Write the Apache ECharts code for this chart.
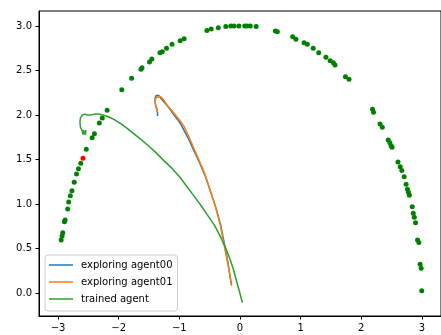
<!DOCTYPE html>
<html>
<head>
<meta charset="utf-8">
<script src="https://cdn.jsdelivr.net/npm/echarts@6/dist/echarts.min.js"></script>
<style>
html,body{margin:0;padding:0;background:#fff;}
#chart{width:441px;height:335px;}
</style>
</head>
<body>
<div id="chart"></div>
<script>
// Tick labels
var xTicks = [-3, -2, -1, 0, 1, 2, 3];
var yTicks = [0, 0.5, 1, 1.5, 2, 2.5, 3];

// Series names
var seriesNames = ['exploring agent00', 'exploring agent01', 'trained agent'];

// Goal points on the arc (green dots)
var goalPoints = [
  [-2.949,0.596],[-2.933,0.640],[-2.922,0.678],[-2.895,0.801],[-2.884,0.820],
  [-2.841,0.944],[-2.825,1.022],[-2.798,1.094],[-2.771,1.150],[-2.734,1.243],
  [-2.696,1.337],[-2.664,1.397],[-2.626,1.457],[-2.535,1.614],[-2.438,1.745],
  [-2.401,1.790],[-2.320,1.910],[-2.272,1.966],[-2.191,2.052],[-1.949,2.285],
  [-1.788,2.412],[-1.632,2.513],[-1.616,2.532],[-1.492,2.596],[-1.454,2.629],
  [-1.320,2.700],[-1.282,2.712],[-1.212,2.749],[-1.121,2.794],[-0.987,2.835],
  [-0.922,2.858],[-0.546,2.948],[-0.476,2.966],[-0.358,2.981],[-0.234,2.993],
  [-0.153,3.000],[-0.099,3.000],[-0.019,3.000],[0.078,3.000],[0.116,3.000],
  [0.169,3.000],[0.266,2.993],[0.583,2.944],[0.616,2.936],[0.868,2.880],
  [0.922,2.850],[1.056,2.813],[1.110,2.794],[1.207,2.749],[1.298,2.700],
  [1.417,2.648],[1.487,2.610],[1.540,2.588],[1.567,2.561],[1.739,2.431],
  [1.798,2.401],[2.185,2.064],[2.202,2.030],[2.309,1.899],[2.347,1.861],
  [2.444,1.719],[2.471,1.689],[2.492,1.655],[2.508,1.637],[2.605,1.472],
  [2.642,1.419],[2.669,1.375],[2.707,1.307],[2.739,1.221],[2.761,1.165],
  [2.777,1.131],[2.793,1.097],[2.841,0.970],[2.857,0.895],[2.874,0.850],
  [2.895,0.790],[2.927,0.596],[2.949,0.566],[2.970,0.322],[2.987,0.277],
  [2.997,0.026]
];

// Current goal (red dot)
var currentGoal = [[-2.589, 1.513]];

// Trajectories
var agent00 = [
  [-1.36,1.99],[-1.36,2.02],[-1.37,2.06],[-1.39,2.10],[-1.40,2.15],[-1.40,2.19],
  [-1.38,2.22],[-1.34,2.22],[-1.31,2.19],[-1.27,2.16],[-1.22,2.12],[-1.16,2.07],
  [-1.10,2.01],[-1.03,1.95],[-0.97,1.89],[-0.91,1.81],[-0.84,1.72],[-0.76,1.60],
  [-0.67,1.47],[-0.57,1.31],[-0.48,1.13],[-0.39,0.94],[-0.32,0.77],[-0.28,0.63],
  [-0.24,0.49],[-0.20,0.35],[-0.17,0.21],[-0.14,0.09]
];
var agent01 = [
  [-1.36,2.03],[-1.37,2.07],[-1.39,2.11],[-1.40,2.15],[-1.39,2.19],[-1.36,2.21],
  [-1.32,2.21],[-1.28,2.19],[-1.24,2.15],[-1.19,2.10],[-1.11,2.04],[-1.04,1.98],
  [-0.98,1.93],[-0.93,1.88],[-0.86,1.78],[-0.77,1.64],[-0.68,1.50],[-0.58,1.34],
  [-0.49,1.15],[-0.40,0.96],[-0.33,0.78],[-0.29,0.64],[-0.25,0.50],[-0.21,0.36],
  [-0.17,0.22],[-0.14,0.08]
];
var trained = [
  [-2.55,1.78],[-2.54,1.83],[-2.56,1.78],[-2.58,1.83],[-2.59,1.78],[-2.60,1.82],
  [-2.62,1.80],[-2.63,1.86],[-2.64,1.92],[-2.63,1.97],[-2.60,2.00],[-2.56,2.01],
  [-2.52,2.00],[-2.46,2.00],[-2.40,2.01],[-2.33,2.01],[-2.26,2.00],[-2.17,1.98],
  [-2.08,1.95],[-1.96,1.90],[-1.86,1.85],[-1.79,1.81],[-1.66,1.74],[-1.52,1.66],
  [-1.39,1.58],[-1.26,1.49],[-1.12,1.40],[-0.99,1.30],[-0.88,1.20],[-0.77,1.10],
  [-0.64,0.98],[-0.53,0.87],[-0.42,0.76],[-0.32,0.63],[-0.24,0.51],[-0.17,0.39],
  [-0.11,0.27],[-0.06,0.14],[-0.01,0.02],[0.04,-0.11]
];

var colors = ['#1f77b4', '#ff7f0e', '#2ca02c'];

var chart = echarts.init(document.getElementById('chart'), null, {renderer: 'canvas'});
var font = 'DejaVu Sans';
function fmtX(v){ return String(v).replace('-', '\u2212'); }
function fmtY(v){ return v.toFixed(1).replace('-', '\u2212'); }

chart.setOption({
  animation: false,
  backgroundColor: '#fff',
  grid: {
    left: 39, top: 11, width: 411, height: 305,
    show: true, borderColor: '#000', borderWidth: 1, backgroundColor: 'transparent'
  },
  xAxis: {
    type: 'value', min: -3.3145, max: 3.3145,
    splitLine: {show: false},
    axisLine: {show: true, onZero: false, lineStyle: {color: '#000', width: 1}},
    axisTick: {show: true, customValues: xTicks, length: 3.5, lineStyle: {color: '#000'}},
    axisLabel: {show: true, customValues: xTicks, formatter: fmtX, color: '#000',
      fontFamily: font, fontSize: 10, margin: 7}
  },
  yAxis: {
    type: 'value', min: -0.2585, max: 3.1685,
    splitLine: {show: false},
    axisLine: {show: true, onZero: false, lineStyle: {color: '#000', width: 1}},
    axisTick: {show: true, customValues: yTicks, length: 3.5, lineStyle: {color: '#000'}},
    axisLabel: {show: true, customValues: yTicks, formatter: fmtY, color: '#000',
      fontFamily: font, fontSize: 10, margin: 7}
  },
  legend: {
    orient: 'vertical', left: 45, top: 255,
    padding: [1.5, 5, 3.5, 4],
    itemWidth: 24, itemHeight: 1.5, itemGap: 0,
    borderColor: '#cccccc', borderWidth: 1, borderRadius: 3,
    backgroundColor: 'rgba(255,255,255,0.8)',
    textStyle: {fontFamily: font, fontSize: 10, color: '#000', lineHeight: 17, padding: [0,0,0,3]},
    data: seriesNames.map(function(n){ return {name: n, icon: 'rect'}; })
  },
  series: [
    {name: 'goals', type: 'scatter', data: goalPoints, symbolSize: 5,
      itemStyle: {color: '#008000', opacity: 1}, z: 2},
    {name: 'current goal', type: 'scatter', data: currentGoal, symbolSize: 5,
      itemStyle: {color: '#ff0000', opacity: 1}, z: 3},
    {name: seriesNames[0], type: 'line', data: agent00, showSymbol: false,
      lineStyle: {color: colors[0], width: 1.5}, itemStyle: {color: colors[0]}, z: 4},
    {name: seriesNames[1], type: 'line', data: agent01, showSymbol: false,
      lineStyle: {color: colors[1], width: 1.5}, itemStyle: {color: colors[1]}, z: 5},
    {name: seriesNames[2], type: 'line', data: trained, showSymbol: false,
      lineStyle: {color: colors[2], width: 1.5}, itemStyle: {color: colors[2]}, z: 6}
  ]
});
</script>
</body>
</html>
